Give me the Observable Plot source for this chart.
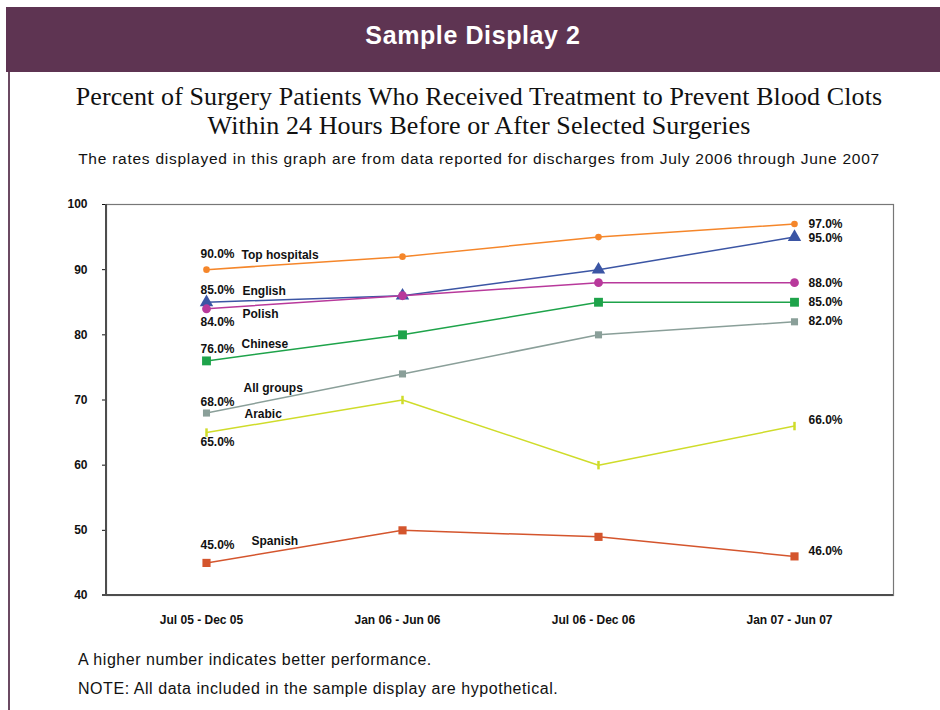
<!DOCTYPE html>
<html>
<head>
<meta charset="utf-8">
<script src="https://cdn.jsdelivr.net/npm/d3@7"></script>
<script src="https://cdn.jsdelivr.net/npm/@observablehq/plot@0.6"></script>
<style>
  html, body { margin: 0; padding: 0; background: #fff; }
  #page { position: relative; width: 940px; height: 710px; overflow: hidden; background: #fff; }
  #band { position: absolute; left: 6px; top: 7px; width: 934px; height: 65px; background: #5e3452;
          color: #fff; font: bold 25px "Liberation Sans", Arial, sans-serif; text-align: center; line-height: 56px;
          letter-spacing: 0.6px; }
  #rail { position: absolute; left: 8px; top: 72px; width: 2px; height: 638px; background: #6b4a62; }
  #title { position: absolute; left: 0; top: 82px; width: 958px; text-align: center;
           font: 26px/29px "Liberation Serif", "Times New Roman", serif; color: #111; letter-spacing: 0.1px; }
  #subtitle { position: absolute; left: 0; top: 150px; width: 958px; text-align: center;
              font: 15.5px "Liberation Sans", Arial, sans-serif; color: #111; letter-spacing: 0.75px; }
  #chart { position: absolute; left: 0; top: 190px; }
  .note { position: absolute; left: 78px; font: 16px "Liberation Sans", Arial, sans-serif; color: #111; letter-spacing: 0.55px; }
</style>
</head>
<body>
<div id="page">
  <div id="band">Sample Display 2</div>
  <div id="rail"></div>
  <div id="title">Percent of Surgery Patients Who Received Treatment to Prevent Blood Clots<br>Within 24 Hours Before or After Selected Surgeries</div>
  <div id="subtitle">The rates displayed in this graph are from data reported for discharges from July 2006 through June 2007</div>
  <div id="chart"></div>
  <div class="note" style="top:651px">A higher number indicates better performance.</div>
  <div class="note" style="top:680px">NOTE: All data included in the sample display are hypothetical.</div>
</div>
<script>
// Reporting periods (x axis) and y axis ticks
const periods = ["Jul 05 - Dec 05", "Jan 06 - Jun 06", "Jul 06 - Dec 06", "Jan 07 - Jun 07"];
const yTicks = [40, 50, 60, 70, 80, 90, 100];

// Percent of patients treated, per group and period
const groups = ["Top hospitals", "English", "Polish", "Chinese", "All groups", "Arabic", "Spanish"];
const topHospitals = [90, 92, 95, 97];
const english      = [85, 86, 90, 95];
const polish       = [84, 86, 88, 88];
const chinese      = [76, 80, 85, 85];
const allGroups    = [68, 74, 80, 82];
const arabic       = [65, 70, 60, 66];
const spanish      = [45, 50, 49, 46];
const seriesValues = [topHospitals, english, polish, chinese, allGroups, arabic, spanish];

// Line colour and marker per group
const colors = ["#f5862a", "#3b55a4", "#b8399b", "#1ea34a", "#8a9f99", "#cfdc2a", "#d4552d"];
const tickSymbol = { draw(ctx, size) { const h = Math.sqrt(size) * 0.85; ctx.moveTo(0, -h); ctx.lineTo(0, h); } };
const markers = {
  "Top hospitals": { symbol: "circle", r: 3.3 },
  "English":       { symbol: "triangle", r: 5 },
  "Polish":        { symbol: "circle", r: 4.4 },
  "Chinese":       { symbol: "square", r: 5 },
  "All groups":    { symbol: "square", r: 4 },
  "Arabic":        { symbol: tickSymbol, r: 2.8, stroked: true },
  "Spanish":       { symbol: "square", r: 4.6 }
};

// Where the start/end annotations sit relative to their points
const labelPlacement = {
  "Top hospitals": { startDy: -16, nameDx: 35, nameDy: -15, endDy: 0 },
  "English":       { startDy: -12, nameDx: 36, nameDy: -11, endDy: 1 },
  "Polish":        { startDy: 13,  nameDx: 36, nameDy: 5,   endDy: 0 },
  "Chinese":       { startDy: -12, nameDx: 35, nameDy: -17, endDy: 0 },
  "All groups":    { startDy: -11, nameDx: 37, nameDy: -25, endDy: -1 },
  "Arabic":        { startDy: 10,  nameDx: 38, nameDy: -18, endDy: -6 },
  "Spanish":       { startDy: -18, nameDx: 45, nameDy: -22, endDy: -5 }
};

const rows = groups.flatMap((g, i) => periods.map((p, j) => ({ group: g, period: p, value: seriesValues[i][j] })));
const fmt = v => v.toFixed(1) + "%";

const marks = [
  Plot.frame({ stroke: "#777", strokeWidth: 1.2 }),
  // left and bottom axis lines
  (index, scales, values, dims) => {
    const g = d3.create("svg:g").attr("stroke", "#4d4d4d").attr("stroke-width", 2);
    g.append("line").attr("x1", dims.marginLeft).attr("x2", dims.marginLeft)
      .attr("y1", dims.marginTop).attr("y2", dims.height - dims.marginBottom + 1);
    g.append("line").attr("x1", dims.marginLeft - 4).attr("x2", dims.width - dims.marginRight)
      .attr("y1", scales.y(yTicks[0])).attr("y2", scales.y(yTicks[0]));
    return g.node();
  }
];

groups.forEach((g, i) => {
  const data = rows.filter(d => d.group === g);
  const m = markers[g];
  const pl = labelPlacement[g];
  marks.push(Plot.line(data, { x: "period", y: "value", stroke: colors[i], strokeWidth: 1.5 }));
  marks.push(Plot.dot(data, m.stroked
    ? { x: "period", y: "value", symbol: () => m.symbol, r: m.r, stroke: colors[i], strokeWidth: 2.5 }
    : { x: "period", y: "value", symbol: () => m.symbol, r: m.r, fill: colors[i], stroke: "none" }));
  const first = data[0], last = data[data.length - 1];
  marks.push(Plot.text([first], { x: "period", y: "value", text: d => fmt(d.value), textAnchor: "start", dx: -6, dy: pl.startDy }));
  marks.push(Plot.text([first], { x: "period", y: "value", text: "group", textAnchor: "start", dx: pl.nameDx, dy: pl.nameDy }));
  marks.push(Plot.text([last], { x: "period", y: "value", text: d => fmt(d.value), textAnchor: "start", dx: 14, dy: pl.endDy }));
});

const chart = Plot.plot({
  width: 940,
  height: 440,
  marginTop: 14,
  marginBottom: 35,
  marginLeft: 106,
  marginRight: 47,
  style: { fontFamily: "'Liberation Sans', Arial, sans-serif", fontSize: "12px", fontWeight: "bold", color: "#111", background: "transparent" },
  x: { type: "point", domain: periods, padding: 0.5, label: null, tickSize: 0, tickPadding: 20 },
  y: { domain: [40, 100], ticks: yTicks, label: null, tickSize: 4, tickPadding: 15 },
  marks
});
chart.querySelectorAll('[aria-label="x-axis tick label"] text').forEach(t => t.setAttribute("dx", "-5"));
document.getElementById("chart").appendChild(chart);
</script>
</body>
</html>
